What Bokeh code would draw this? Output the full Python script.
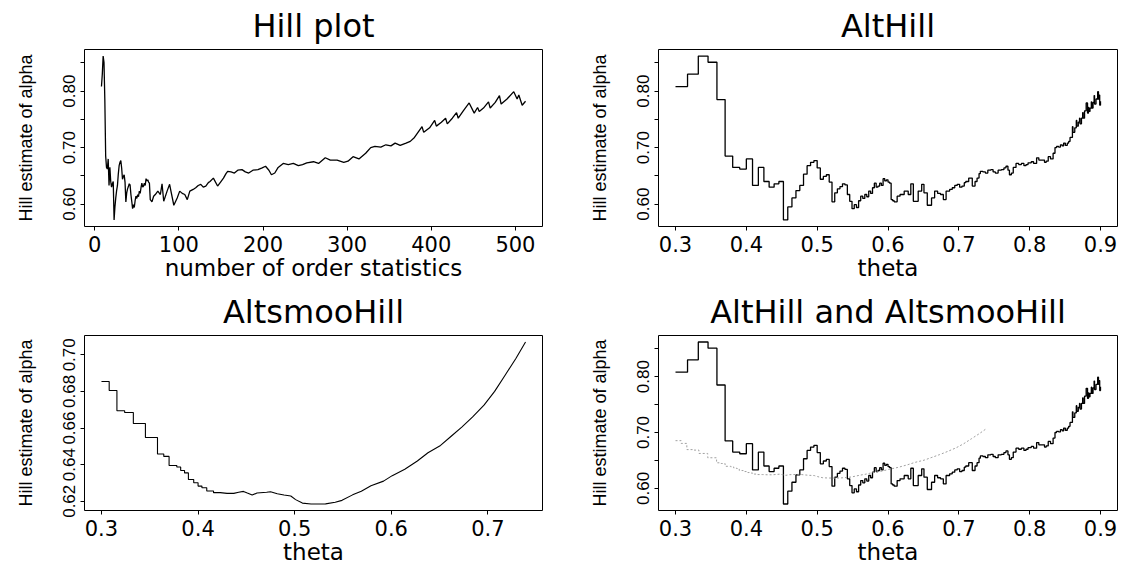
import math
from bokeh.plotting import figure
from bokeh.layouts import gridplot
from bokeh.models import FixedTicker, PrintfTickFormatter, Range1d
from bokeh.embed import file_html
from bokeh.resources import INLINE

# ---------------- data ----------------
n_obs = 1024  # sample size: theta = log(k) / log(n)

hill_k = list(range(8, 69)) + [
    70, 72, 75, 78, 80, 82, 86, 89, 91, 94, 98, 101, 104, 107, 110, 113, 117, 120,
    123, 126, 129, 132, 135, 137, 141, 146, 150, 153, 156, 158, 162, 166, 170, 175,
    179, 183, 188, 194, 199, 203, 207, 210, 214, 218, 224, 230, 236, 242, 247, 252,
    260, 266, 274, 280, 288, 296, 301, 307, 314, 322, 328, 333, 340, 346, 352, 357,
    363, 370, 375, 380, 389, 391, 398, 404, 406, 412, 417, 419, 425, 430, 432, 438,
    445, 451, 455, 457, 462, 468, 470, 476, 481, 483, 490, 498, 502, 504, 508, 512]

hill_alpha = [
    0.808, 0.830, 0.862, 0.851, 0.785, 0.685, 0.665, 0.662, 0.680, 0.633,
    0.665, 0.640, 0.630, 0.636, 0.640, 0.572, 0.595, 0.611, 0.624, 0.633,
    0.653, 0.668, 0.674, 0.677, 0.664, 0.644, 0.649, 0.652, 0.639, 0.604,
    0.620, 0.627, 0.631, 0.636, 0.634, 0.617, 0.605, 0.592, 0.599, 0.594,
    0.606, 0.614, 0.610, 0.617, 0.613, 0.623, 0.619, 0.629, 0.637, 0.630,
    0.632, 0.637, 0.633, 0.645, 0.641, 0.643, 0.639, 0.637, 0.608, 0.606,
    0.604,
    0.614, 0.617, 0.623, 0.617, 0.636, 0.605, 0.623, 0.635, 0.620, 0.598,
    0.611, 0.623, 0.619, 0.617, 0.608, 0.623, 0.626, 0.629, 0.633, 0.635,
    0.630, 0.632, 0.638, 0.640, 0.646, 0.632, 0.640, 0.646, 0.654, 0.658,
    0.657, 0.655, 0.660, 0.661, 0.657, 0.655, 0.660, 0.661, 0.664, 0.667,
    0.660, 0.652, 0.655, 0.665, 0.672, 0.670, 0.672, 0.668, 0.670, 0.673,
    0.675, 0.672, 0.682, 0.678, 0.678, 0.674, 0.676, 0.684, 0.680, 0.690,
    0.700, 0.702, 0.701, 0.705, 0.703, 0.708, 0.704, 0.708, 0.711, 0.718,
    0.737, 0.727, 0.735, 0.748, 0.738, 0.745, 0.752, 0.742, 0.752, 0.762,
    0.752, 0.765, 0.779, 0.761, 0.771, 0.764, 0.770, 0.781, 0.770, 0.780,
    0.792, 0.777, 0.786, 0.799, 0.786, 0.793, 0.775, 0.782]

smoo_theta = [
    0.300, 0.308, 0.308, 0.316, 0.316, 0.324, 0.324, 0.333, 0.333, 0.3455,
    0.3455, 0.358, 0.358, 0.3645, 0.3645, 0.370, 0.370, 0.378, 0.378, 0.382,
    0.382, 0.386, 0.386, 0.390, 0.390, 0.3955, 0.3955, 0.400, 0.400, 0.404,
    0.404, 0.409, 0.409, 0.416, 0.416, 0.423, 0.430, 0.437, 0.442, 0.447,
    0.451, 0.456, 0.461, 0.471, 0.475, 0.482, 0.489, 0.496, 0.501, 0.508,
    0.517, 0.532, 0.542, 0.549, 0.560, 0.569, 0.579, 0.592, 0.601, 0.614,
    0.627, 0.638, 0.651, 0.662, 0.673, 0.684, 0.696, 0.707, 0.718, 0.729,
    0.739]

smoo_alpha = [
    0.6854, 0.6854, 0.6805, 0.6805, 0.6694, 0.6694, 0.6685, 0.6685, 0.6625, 0.6625,
    0.6548, 0.6548, 0.6458, 0.6458, 0.6445, 0.6445, 0.6395, 0.6395, 0.6387, 0.6387,
    0.6368, 0.6368, 0.6355, 0.6355, 0.6319, 0.6319, 0.6301, 0.6301, 0.6283, 0.6283,
    0.6274, 0.6274, 0.6256, 0.6256, 0.6247, 0.6247, 0.6243, 0.6243, 0.6249, 0.6254,
    0.6245, 0.6234, 0.6245, 0.6249, 0.6252, 0.6241, 0.6234, 0.6229, 0.6209, 0.6190,
    0.6185, 0.6186, 0.6195, 0.6205, 0.6235, 0.6255, 0.6285, 0.6310, 0.6340, 0.6375,
    0.6420, 0.6465, 0.6505, 0.6555, 0.6605, 0.6660, 0.6725, 0.6800, 0.6890, 0.6980,
    0.7070]

titles = ["Hill plot", "AltHill", "AltsmooHill", "AltHill and AltsmooHill"]
x_labels = ["number of order statistics", "theta", "theta", "theta"]
y_label = "Hill estimate of alpha"

k_ticks = [0, 100, 200, 300, 400, 500]
theta_ticks = [0.3, 0.4, 0.5, 0.6, 0.7, 0.8, 0.9]
theta_ticks_smoo = [0.3, 0.4, 0.5, 0.6, 0.7]
alpha_ticks = [0.60, 0.70, 0.80]
alpha_minor = [0.65, 0.75, 0.85]
alpha_ticks_smoo = [0.62, 0.64, 0.66, 0.68, 0.70]

# ---------------- derived ----------------
hill_theta = [math.log(k) / math.log(n_obs) for k in hill_k]


def padded(vals):
    lo, hi = min(vals), max(vals)
    d = (hi - lo) * 0.04
    return Range1d(lo - d, hi + d)


TITLE_FONT = "DejaVu Sans"
TICK_FONT = "DejaVu Sans"
YFONT = "Liberation Sans"


def make_fig(title, xlabel, xr, yr, height, left, right, top, bottom,
             xticks, xfmt, yticks, yminor):
    p = figure(width=561, height=height, x_range=xr, y_range=yr,
               output_backend="svg", toolbar_location=None,
               min_border_left=left, min_border_right=right,
               min_border_top=top, min_border_bottom=bottom)
    p.title.text = title
    p.title.align = "center"
    p.title.text_font = TITLE_FONT
    p.title.text_font_size = "32px"
    p.title.text_font_style = "normal"
    p.title.text_color = "black"
    p.title.standoff = 9
    p.grid.visible = False
    p.outline_line_color = "black"
    p.outline_line_width = 1
    p.outline_line_alpha = 1.0
    p.background_fill_color = "white"
    p.border_fill_color = "white"

    xa = p.xaxis[0]
    xa.ticker = FixedTicker(ticks=xticks, minor_ticks=[])
    xa.formatter = PrintfTickFormatter(format=xfmt)
    xa.axis_line_color = None
    xa.major_tick_out = 4
    xa.major_tick_in = 0
    xa.major_tick_line_color = "black"
    xa.minor_tick_line_color = None
    xa.major_label_text_font = TICK_FONT
    xa.major_label_text_font_size = "21px"
    xa.major_label_text_color = "black"
    xa.major_label_standoff = 5
    xa.axis_label = xlabel
    xa.axis_label_text_font = TICK_FONT
    xa.axis_label_text_font_size = "23px"
    xa.axis_label_text_font_style = "normal"
    xa.axis_label_text_color = "black"
    xa.axis_label_standoff = 0

    ya = p.yaxis[0]
    ya.ticker = FixedTicker(ticks=yticks, minor_ticks=yminor)
    ya.formatter = PrintfTickFormatter(format="%.2f")
    ya.axis_line_color = None
    ya.major_tick_out = 4
    ya.major_tick_in = 0
    ya.minor_tick_out = 4
    ya.minor_tick_in = 0
    ya.major_tick_line_color = "black"
    ya.minor_tick_line_color = "black"
    ya.major_label_orientation = "vertical"
    ya.major_label_text_font = YFONT
    ya.major_label_text_font_size = "17px"
    ya.major_label_text_color = "black"
    ya.major_label_standoff = 5
    ya.axis_label = y_label
    ya.axis_label_text_font = YFONT
    ya.axis_label_text_font_size = "18px"
    ya.axis_label_text_font_style = "normal"
    ya.axis_label_text_color = "black"
    ya.axis_label_standoff = 25
    return p


# Panel 1: Hill plot
p1 = make_fig(titles[0], x_labels[0], padded(hill_k), padded(hill_alpha), 283,
              84, 19, 47, 57, k_ticks, "%d", alpha_ticks, alpha_minor)
p1.line(hill_k, hill_alpha, line_color="black", line_width=1.3)

# Panel 2: AltHill
p2 = make_fig(titles[1], x_labels[1], padded(hill_theta), padded(hill_alpha), 283,
              97, 5, 47, 57, theta_ticks, "%.1f", alpha_ticks, alpha_minor)
p2.step(hill_theta, hill_alpha, mode="after", line_color="black", line_width=1.3)

# Panel 3: AltsmooHill
p3 = make_fig(titles[2], x_labels[2], padded(smoo_theta), padded(smoo_alpha), 284,
              84, 19, 52, 55, theta_ticks_smoo, "%.1f", alpha_ticks_smoo, [])
p3.line(smoo_theta, smoo_alpha, line_color="black", line_width=1.1)

# Panel 4: AltHill and AltsmooHill
p4 = make_fig(titles[3], x_labels[3], padded(hill_theta), padded(hill_alpha), 284,
              97, 5, 51, 55, theta_ticks, "%.1f", alpha_ticks, alpha_minor)
p4.step(hill_theta, hill_alpha, mode="after", line_color="black", line_width=1.3)
p4.line(smoo_theta, smoo_alpha, line_color="#a0a0a0", line_width=1.0, line_dash="2 2")

grid = gridplot([[p1, p2], [p3, p4]], toolbar_location=None)

open("out.html", "w").write(file_html(grid, INLINE))
